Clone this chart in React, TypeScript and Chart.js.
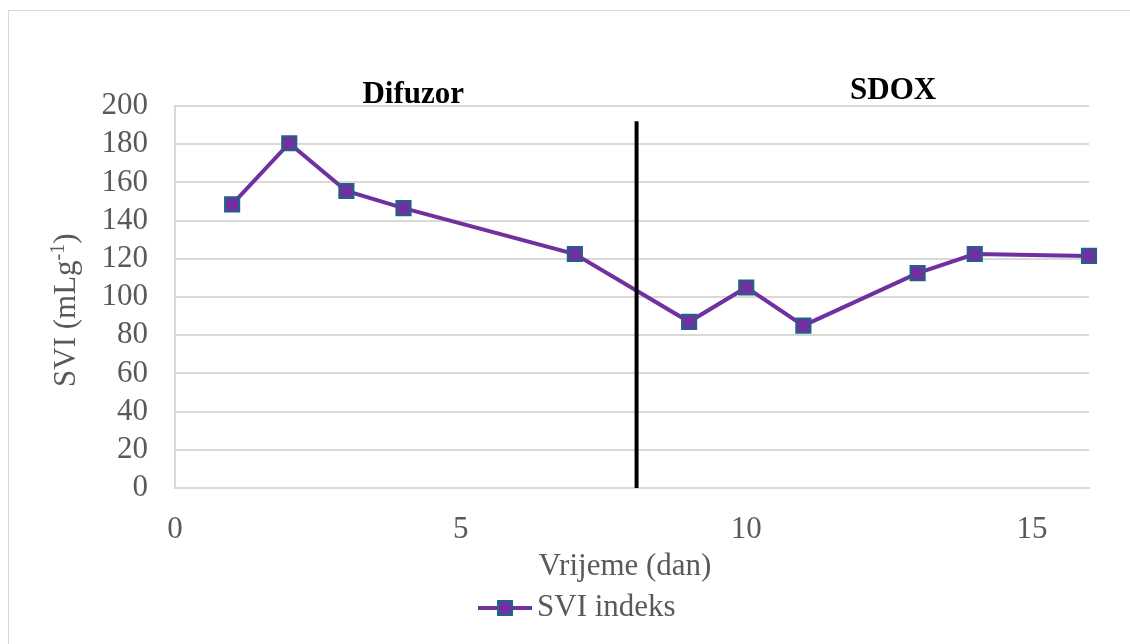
import React, { useEffect, useRef } from "react";
import { Chart, registerables } from "chart.js";

Chart.register(...registerables);

// ---- data ----
const days = [1, 2, 3, 4, 7, 9, 10, 11, 13, 14, 16];
const sviValues = [148.5, 180.5, 155.5, 146.5, 122.5, 87, 105, 85, 112.5, 122.5, 121.5];
const dividerDays = [8.08, 8.08];
const dividerValues = [0, 192];
const seriesLabel = "SVI indeks";
const phaseLabels = ["Difuzor", "SDOX"];
const xTitle = "Vrijeme (dan)";
const yTitleMain = "SVI (mLg";
const yTitleSup = "-1";
const yTitleEnd = ")";

const FONT = "'Liberation Serif', 'Times New Roman', Times, serif";
const PURPLE = "#7030A0";
const MARKER_BORDER = "#1F6485";
const TEXT_GRAY = "#595959";
const GRID = "#d9d9d9";

const overlayPlugin = {
  id: "overlay",
  beforeDraw(chart: any) {
    const ctx = chart.ctx;
    ctx.save();
    ctx.fillStyle = "#ffffff";
    ctx.fillRect(0, 0, chart.width, chart.height);
    ctx.strokeStyle = GRID;
    ctx.lineWidth = 1;
    ctx.strokeRect(8.5, 10.5, 1200, 800);
    ctx.restore();
  },
  afterDraw(chart: any) {
    const ctx = chart.ctx;
    const xs = chart.scales.x;
    ctx.save();
    // phase labels
    ctx.font = `bold 31px ${FONT}`;
    ctx.fillStyle = "#000000";
    ctx.textAlign = "center";
    ctx.textBaseline = "alphabetic";
    ctx.fillText(phaseLabels[0], xs.getPixelForValue(4.17), 103);
    ctx.fillText(phaseLabels[1], xs.getPixelForValue(12.57), 99);

    // x title
    ctx.font = `31px ${FONT}`;
    ctx.fillStyle = TEXT_GRAY;
    ctx.textBaseline = "middle";
    ctx.fillText(xTitle, 625, 567);

    // y title (rotated, with superscript)
    ctx.save();
    ctx.translate(75, 387);
    ctx.rotate(-Math.PI / 2);
    ctx.textAlign = "left";
    ctx.textBaseline = "alphabetic";
    ctx.font = `31px ${FONT}`;
    ctx.fillText(yTitleMain, 0, 0);
    let w = ctx.measureText(yTitleMain).width;
    ctx.font = `20px ${FONT}`;
    ctx.fillText(yTitleSup, w, -11);
    w += ctx.measureText(yTitleSup).width;
    ctx.font = `31px ${FONT}`;
    ctx.fillText(yTitleEnd, w, 0);
    ctx.restore();

    // legend
    const ly = 608;
    ctx.strokeStyle = PURPLE;
    ctx.lineWidth = 4;
    ctx.beginPath();
    ctx.moveTo(478, ly);
    ctx.lineTo(532, ly);
    ctx.stroke();
    ctx.fillStyle = PURPLE;
    ctx.fillRect(505 - 7, ly - 7, 14, 14);
    ctx.strokeStyle = MARKER_BORDER;
    ctx.lineWidth = 2;
    ctx.strokeRect(505 - 7, ly - 7, 14, 14);
    ctx.font = `31px ${FONT}`;
    ctx.fillStyle = TEXT_GRAY;
    ctx.textAlign = "left";
    ctx.textBaseline = "middle";
    ctx.fillText(seriesLabel, 537, ly);
    ctx.restore();
  },
};

export default function App() {
  const ref = useRef<HTMLCanvasElement | null>(null);

  useEffect(() => {
    if (!ref.current) return;
    const chart = new Chart(ref.current, {
      type: "line",
      data: {
        datasets: [
          {
            label: "divider",
            data: dividerDays.map((d, i) => ({ x: d, y: dividerValues[i] })),
            borderColor: "#000000",
            borderWidth: 4,
            pointRadius: 0,
            order: 0,
          },
          {
            label: seriesLabel,
            data: days.map((d, i) => ({ x: d, y: sviValues[i] })),
            borderColor: PURPLE,
            borderWidth: 4,
            pointStyle: "rect",
            pointRadius: 10,
            pointBackgroundColor: PURPLE,
            pointBorderColor: MARKER_BORDER,
            pointBorderWidth: 2,
            clip: false,
            order: 1,
          },
        ],
      },
      options: {
        responsive: false,
        animation: false,
        layout: { padding: { top: 106, left: 0, right: 41, bottom: 96 } },
        plugins: {
          legend: { display: false },
          tooltip: { enabled: false },
          title: { display: false },
        },
        scales: {
          x: {
            type: "linear",
            min: 0,
            max: 16,
            grid: { display: false, drawTicks: false },
            border: { display: true, color: GRID, width: 2 },
            ticks: {
              stepSize: 5,
              includeBounds: false,
              padding: 23,
              color: TEXT_GRAY,
              font: { family: FONT, size: 31 },
              maxRotation: 0,
              autoSkip: false,
            },
            afterFit: (s: any) => {
              s.height = 60;
            },
          },
          y: {
            type: "linear",
            min: 0,
            max: 200,
            grid: { color: GRID, lineWidth: 2, drawTicks: false },
            border: { display: true, color: GRID, width: 2 },
            ticks: {
              stepSize: 20,
              padding: 27,
              color: TEXT_GRAY,
              font: { family: FONT, size: 31 },
              autoSkip: false,
            },
            afterFit: (s: any) => {
              s.width = 175;
            },
          },
        },
      },
      plugins: [overlayPlugin],
    });
    return () => chart.destroy();
  }, []);

  return (
    <div style={{ position: "fixed", left: 0, top: 0, width: 1130, height: 644, background: "#fff" }}>
      <canvas ref={ref} width={1130} height={644} style={{ width: 1130, height: 644 }} />
    </div>
  );
}
